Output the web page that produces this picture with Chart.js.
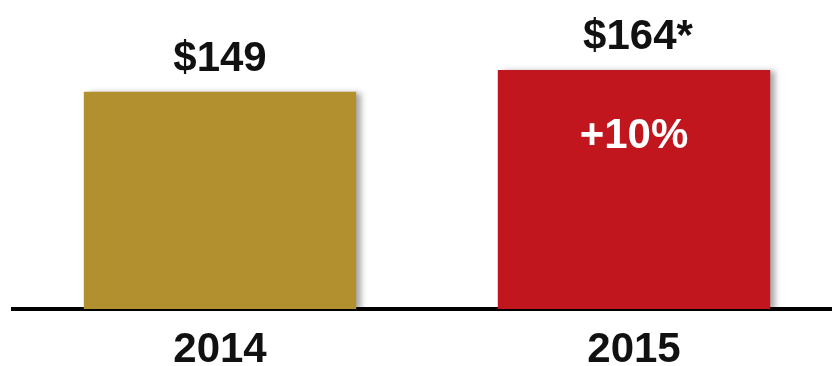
<!DOCTYPE html>
<html>
<head>
<meta charset="utf-8">
<script src="https://cdn.jsdelivr.net/npm/chart.js@4.4.1/dist/chart.umd.min.js"></script>
<style>
    html, body { margin: 0; padding: 0; background: #fff; overflow: hidden; }
    #wrap { position: relative; width: 850px; height: 366px; }
</style>
</head>
<body>
<div id="wrap"><canvas id="priceChart"></canvas></div>
<script>
// Chart data
const years = ['2014', '2015'];
const prices = [149, 164];
const priceNotes = ['', '*'];
const changeLabels = ['', '+10%'];
const barColors = ['#B28F2F', '#C1161D'];

const FONT = "'Liberation Sans', Arial, sans-serif";

// Soft drop shadow behind the bars, then value / change labels on top
const barDecor = {
    id: 'barDecor',
    beforeDatasetsDraw(chart) {
        const ctx = chart.ctx;
        ctx.save();
        ctx.shadowColor = 'rgba(0, 0, 0, 0.35)';
        ctx.shadowBlur = 6;
        ctx.shadowOffsetX = 5;
        ctx.shadowOffsetY = 1;
    },
    afterDatasetsDraw(chart) {
        const ctx = chart.ctx;
        ctx.restore();

        const meta = chart.getDatasetMeta(0);
        ctx.save();
        ctx.font = 'bold 42px ' + FONT;
        ctx.textAlign = 'center';
        ctx.textBaseline = 'alphabetic';
        meta.data.forEach((bar, i) => {
            ctx.fillStyle = '#111';
            ctx.fillText('$' + prices[i] + priceNotes[i], bar.x + (priceNotes[i] ? 4 : 0), bar.y - 21);
            if (changeLabels[i]) {
                ctx.fillStyle = '#fff';
                ctx.fillText(changeLabels[i], bar.x, bar.y + 78);
            }
        });
        ctx.restore();
    }
};

const ctx = document.getElementById('priceChart').getContext('2d');
new Chart(ctx, {
    type: 'bar',
    data: {
        labels: years,
        datasets: [{
            data: prices,
            backgroundColor: barColors,
            borderWidth: 0,
            barPercentage: 0.658,
            categoryPercentage: 1
        }]
    },
    options: {
        responsive: true,
        maintainAspectRatio: false,
        animation: false,
        layout: { padding: { left: 13, right: 9, top: 0, bottom: 0 } },
        plugins: {
            legend: { display: false },
            tooltip: { enabled: false }
        },
        scales: {
            x: {
                grid: { display: false, drawTicks: false },
                border: { display: true, color: '#000', width: 4 },
                ticks: {
                    color: '#111',
                    padding: 16.5,
                    font: { family: FONT, size: 42, weight: 'bold', lineHeight: 1.2 }
                },
                // fixed axis band height so the baseline sits where it should
                afterFit(scale) {
                    scale.height = 57;
                }
            },
            y: {
                display: false,
                min: 0,
                max: 212
            }
        }
    },
    plugins: [barDecor]
});
</script>
</body>
</html>
